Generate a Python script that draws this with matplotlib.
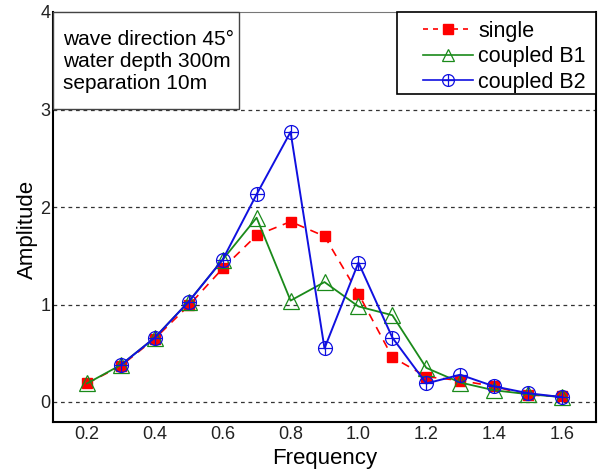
import matplotlib
matplotlib.use("Agg")
import matplotlib.pyplot as plt
from matplotlib.lines import Line2D
from matplotlib.patches import Rectangle

plt.rcParams['font.family'] = ['Liberation Sans', 'DejaVu Sans']

freq_single = [0.2, 0.3, 0.4, 0.5, 0.6, 0.7, 0.8, 0.9, 1.0, 1.1, 1.2, 1.3, 1.4, 1.5, 1.6]
amp_single = [0.19, 0.37, 0.65, 0.99, 1.37, 1.71, 1.85, 1.70, 1.11, 0.46, 0.26, 0.22, 0.16, 0.07, 0.06]

freq_b1 = [0.2, 0.3, 0.4, 0.5, 0.6, 0.7, 0.8, 0.9, 1.0, 1.1, 1.2, 1.3, 1.4, 1.5, 1.6]
amp_b1 = [0.19, 0.38, 0.66, 1.03, 1.46, 1.89, 1.04, 1.23, 0.98, 0.89, 0.35, 0.20, 0.12, 0.08, 0.05]

freq_b2 = [0.3, 0.4, 0.5, 0.6, 0.7, 0.8, 0.9, 1.0, 1.1, 1.2, 1.3, 1.4, 1.5, 1.6]
amp_b2 = [0.38, 0.66, 1.03, 1.46, 2.13, 2.77, 0.55, 1.43, 0.66, 0.19, 0.28, 0.16, 0.09, 0.05]

xticks = [0.2, 0.4, 0.6, 0.8, 1.0, 1.2, 1.4, 1.6]
xticklabels = ['0.2', '0.4', '0.6', '0.8', '1.0', '1.2', '1.4', '1.6']
yticks = [0, 1, 2, 3, 4]
series_labels = ['single', 'coupled B1', 'coupled B2']
info_text = 'wave direction 45°\nwater depth 300m\nseparation 10m'

RED = '#ff0000'
GREEN = '#1a8a1a'
BLUE = '#1010e0'

W, H = 600, 470
L, R, T, B = 53, 596, 12, 421.5
fig = plt.figure(figsize=(6, 4.7), dpi=100)
ax = fig.add_axes([L/W, 1 - B/H, (R-L)/W, (B-T)/H])

def axx(px):
    return (px - L) / (R - L)

def axy(py):
    return (B - py) / (B - T)

for y in [0, 1, 2, 3]:
    ax.axhline(y, color='#333333', lw=0.9, ls=(0, (3, 3)), zorder=1)

ax.plot(freq_single, amp_single, color=RED, ls=(0, (5, 4)), lw=1.2,
        marker='s', ms=7.5, mfc=RED, mec=RED, zorder=3)
ax.plot(freq_b1, amp_b1, color=GREEN, ls='-', lw=1.3,
        marker='^', ms=11, mfc='none', mec=GREEN, mew=0.9, zorder=4)
ax.plot(freq_b2, amp_b2, color=BLUE, ls='-', lw=1.4,
        marker='o', ms=10, mfc='none', mec=BLUE, mew=0.9, zorder=5)
ax.plot(freq_b2, amp_b2, color=BLUE, ls='none',
        marker='+', ms=10, mec=BLUE, mew=0.9, zorder=5)

ax.set_xlim(0.1, 1.7)
ax.set_ylim(-0.2, 4)
ax.set_xticks(xticks)
ax.set_xticklabels(xticklabels)
ax.set_yticks(yticks)
ax.tick_params(axis='both', length=0, labelsize=13, colors='#222222')
ax.tick_params(axis='x', pad=3)
ax.tick_params(axis='y', pad=2)

ax.spines['left'].set_linewidth(1.5)
ax.spines['bottom'].set_linewidth(1.5)
ax.spines['right'].set_linewidth(1.5)
ax.spines['top'].set_linewidth(0.8)
ax.spines['top'].set_color('#777777')

ax.set_xlabel('Frequency', fontsize=16, labelpad=4)
ax.set_ylabel('Amplitude', fontsize=16)
ax.yaxis.set_label_coords(-(L - 38) / (R - L), axy(229))

# legend
h1 = Line2D([], [], color=RED, ls=(0, (3, 3)), lw=1.2, marker='s', ms=6.5, mfc=RED, mec=RED)
h2 = Line2D([], [], color=GREEN, lw=1.2, marker='^', ms=9, mfc='none', mec=GREEN, mew=0.9)
h3a = Line2D([], [], color=BLUE, lw=1.2, marker='o', ms=8.5, mfc='none', mec=BLUE, mew=0.9)
h3b = Line2D([], [], color=BLUE, ls='none', marker='+', ms=8.5, mec=BLUE, mew=0.9)
leg = ax.legend([h1, h2, (h3a, h3b)], series_labels,
                loc='upper right', fontsize=15.5, frameon=False,
                borderaxespad=0, borderpad=0, handlelength=2.3, handletextpad=0.25,
                labelspacing=0.2, bbox_to_anchor=(axx(586), axy(21)))
leg.set_zorder(8)
ax.add_patch(Rectangle((axx(397), axy(94)), 1 - axx(397), 1 - axy(94),
                       transform=ax.transAxes, fc='white', ec='black', lw=1.2, zorder=7,
                       clip_on=False))

# info box
ax.add_patch(Rectangle((0, axy(109)), axx(239), 1 - axy(109),
                       transform=ax.transAxes, fc='white', ec='#444444', lw=1.0, zorder=7,
                       clip_on=False))
ax.text(axx(63), axy(30), info_text, transform=ax.transAxes,
        fontsize=15, va='top', ha='left', linespacing=1.2, zorder=8)

fig.savefig('out.png', dpi=100)
